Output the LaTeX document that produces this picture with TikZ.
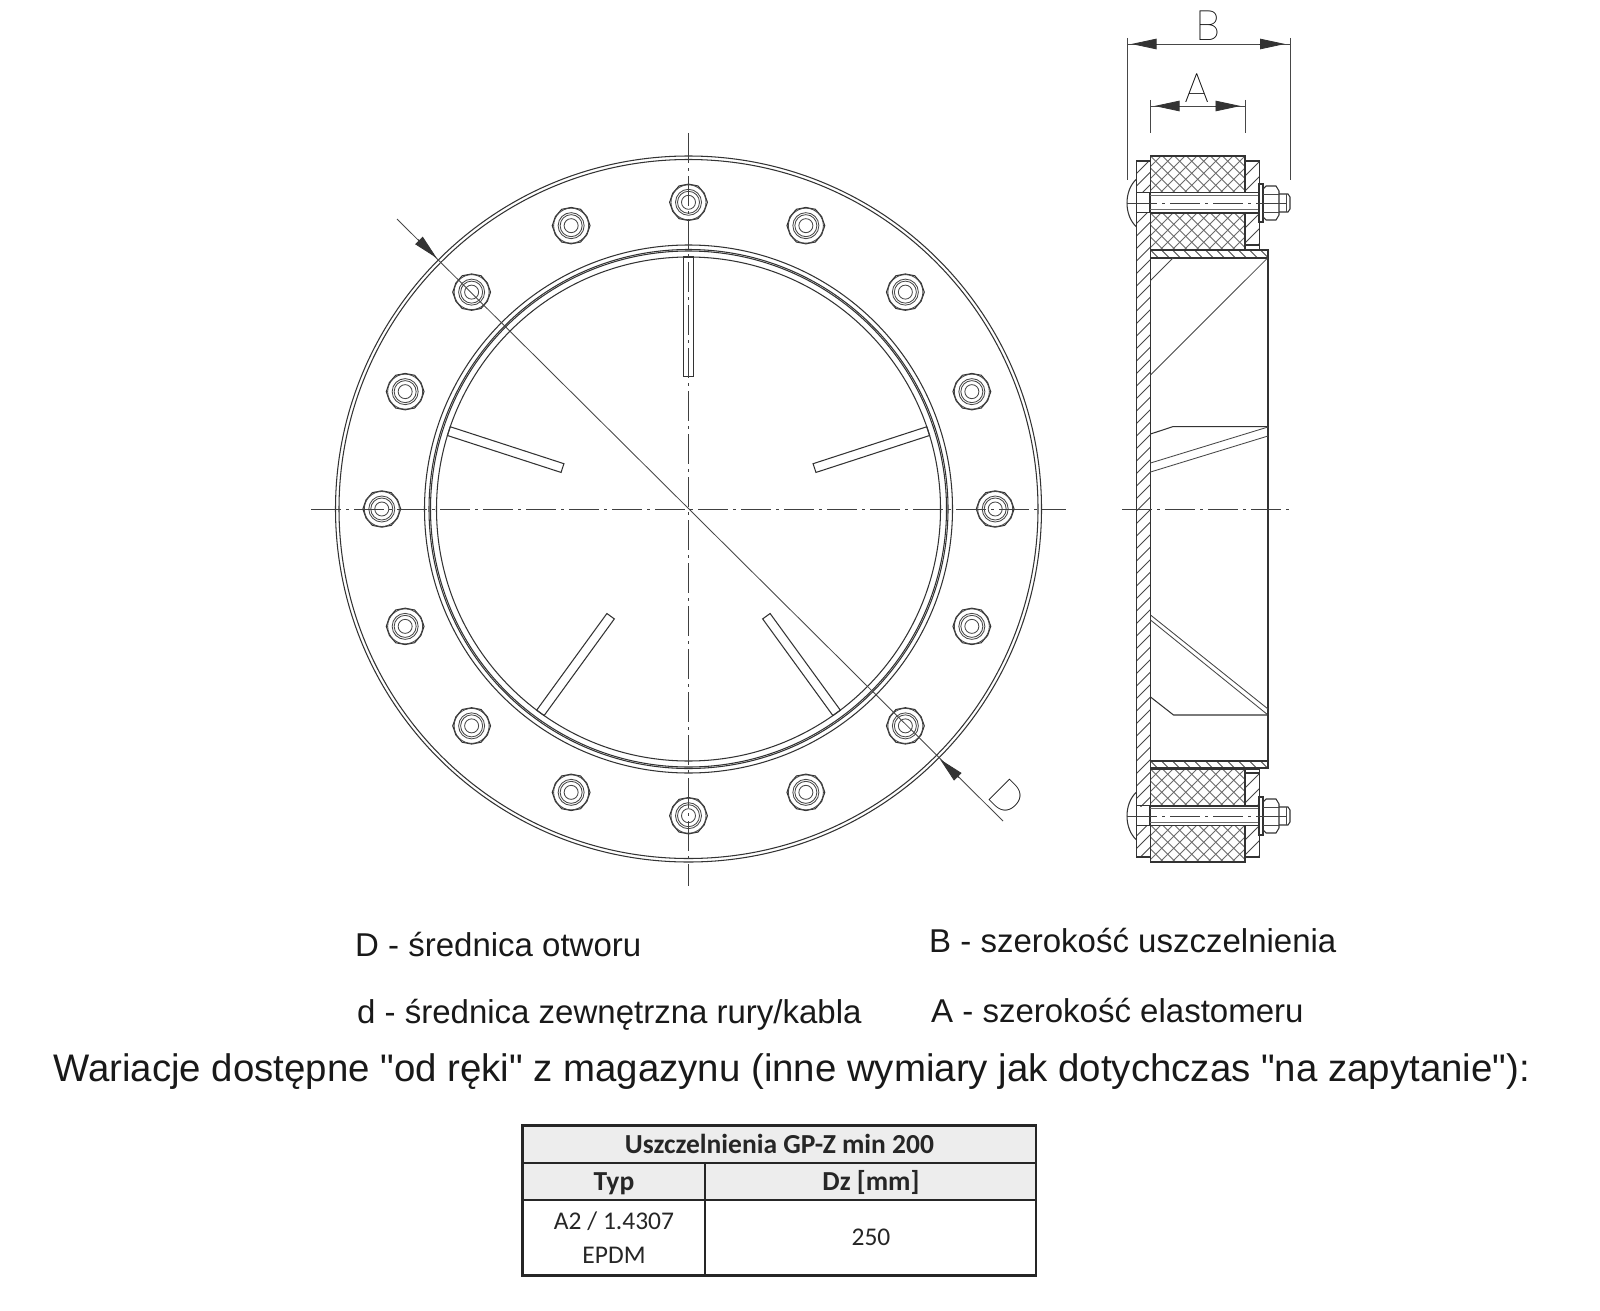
\documentclass[tikz,border=0pt]{standalone}
\usepackage{fontspec}
\setmainfont{Liberation Sans}
\newfontfamily\capfont{Liberation Sans}
\newfontfamily\tabfont{Carlito}
\newfontfamily\cadfont{Poppins Thin}
\usetikzlibrary{arrows.meta}
\definecolor{headgray}{HTML}{EDEDED}
\tikzset{
  ln/.style={line width=1.05pt,draw=black!80},
  thn/.style={line width=0.85pt,draw=black!72},
  foam/.style={line width=0.75pt,draw=black!58},
  axis/.style={line width=0.9pt,draw=black!75,dash pattern=on 30pt off 5pt on 3pt off 5pt},
  dimline/.style={line width=0.8pt,draw=black!80,-{Triangle[length=25pt,width=10.5pt]}},
  dimlabel/.style={font=\cadfont\fontsize{42}{42}\selectfont,text=black,inner sep=0pt},
  caption/.style={font=\capfont\fontsize{33}{33}\selectfont,anchor=west,inner sep=0pt,text=black!90},
  cell/.style={font=\tabfont\fontsize{25.5}{25.5}\selectfont,inner sep=0pt,text=black!85},
  headcell/.style={cell,font=\tabfont\bfseries\fontsize{27.5}{27.5}\selectfont},
  rule/.style={line width=2.4pt,draw=black!85}
}
\newcommand{\hexnut}{
  \draw[ln] (0:18.9) -- (30:18.2) -- (60:18.9) -- (90:18.2) -- (120:18.9) -- (150:18.2) -- (180:18.9) -- (210:18.2) -- (240:18.9) -- (270:18.2) -- (300:18.9) -- (330:18.2) -- cycle;
  \draw[thn] (0,0) circle [radius=17.5pt];
  \draw[thn] (0,0) circle [radius=13pt];
  \draw[thn] (0,0) circle [radius=11pt];
  \draw[thn] (0,0) circle [radius=7pt];
}
% one bolt of the side view
\newcommand{\sidebolt}[1]{
  \begin{scope}[shift={(0,#1)}]
  \draw[ln] (1136.5,-24) .. controls (1130,-18) and (1127,-9) .. (1127,0) .. controls (1127,9) and (1130,18) .. (1136.5,24);
  \draw[ln] (1136.5,-10.5) rectangle (1150,9.5);
  \draw[ln] (1150,-10.5) -- (1259,-10.5);
  \draw[foam] (1150,-7.5) -- (1259,-7.5);
  \draw[foam] (1150,6.5) -- (1259,6.5);
  \draw[ln] (1150,9.5) -- (1259,9.5);
  \draw[ln] (1259,-19) rectangle (1263,19);
  \draw[ln] (1263,-14) -- (1266,-17) -- (1276,-17) -- (1279,-12) -- (1279,12) -- (1276,17) -- (1266,17) -- (1263,14);
  \draw[thn] (1263,-9) -- (1279,-9);
  \draw[thn] (1263,9) -- (1279,9);
  \draw[ln] (1279,-9) -- (1288,-9) -- (1290,-6) -- (1290,6) -- (1288,9) -- (1279,9);
  \draw[thn] (1286.5,-9) -- (1286.5,9);
  \draw[axis] (1127,0) -- (1290,0);
  \end{scope}
}
\newcommand{\foamblock}[2]{
  \begin{scope}
  \clip (1150.5,#1) rectangle (1245,#2);
  \foreach \k in {-120,-108,...,120}{
    \draw[foam] (1150.5+\k,#1) -- ++(120,120);
    \draw[foam] (1245+\k,#1) -- ++(-120,120);
  }
  \end{scope}
  \draw[ln] (1150.5,#1) rectangle (1245,#2);
}
\newcommand{\flangeblock}[2]{
  \begin{scope}
  \clip (1245,#1) rectangle (1259.5,#2);
  \foreach \k in {0,15,...,120}{
    \draw[thn] (1245,#1+\k) -- ++(15,-15);
  }
  \end{scope}
  \draw[ln] (1245,#1) rectangle (1259.5,#2);
}
\newcommand{\tubeblock}[2]{
  \begin{scope}
  \clip (1150.5,#1) rectangle (1268,#2);
  \foreach \k in {0,11,...,121}{
    \draw[thn] (1150.5+\k,#1) -- ++(10,10);
  }
  \end{scope}
  \draw[ln] (1150.5,#1) rectangle (1268,#2);
}
\begin{document}
\begin{tikzpicture}[x=1pt,y=-1pt]
\useasboundingbox (0,0) rectangle (1600,1311);
\fill[white] (0,0) rectangle (1600,1311);

% front view
\begin{scope}[shift={(688.5,509)}]
\draw[ln] (0,0) circle [radius=353pt];
\draw[ln] (0,0) circle [radius=349.5pt];
\draw[ln] (0,0) circle [radius=264pt];
\draw[ln] (0,0) circle [radius=259.5pt];
\draw[ln] (0,0) circle [radius=258pt];
\draw[ln] (0,0) circle [radius=252pt];
\foreach \a in {18,90,162,234,306}{
  \draw[ln,rotate=\a] (132.5,-4.6) rectangle (252,4.6);
}
\foreach \a in {0,22.5,...,337.5}{
  \begin{scope}[shift={(\a:306.7)}]
  \hexnut
  \end{scope}
}
\end{scope}
\draw[axis] (688.5,133) -- (688.5,886);
\draw[axis] (311,509) -- (1066,509);

% dimension D
\coordinate (dstart) at (397,219);
\coordinate (dend) at (1003,821);
\coordinate (dtipa) at (436.7,258);
\coordinate (dtipb) at (940,759.3);
\coordinate (dtaila) at (418,239.5);
\coordinate (dtailb) at (958.5,777.5);
\draw[thn] (dstart) -- (dend);
\draw[dimline] (dtaila) -- (dtipa);
\draw[dimline] (dtailb) -- (dtipb);
\node[dimlabel,rotate=-45] (labd) at (1007,797) {D};

% side view
\begin{scope}
\clip (1136.5,161) rectangle (1150.5,857);
\foreach \k in {161,173.5,...,875}{
  \draw[thn] (1136.5,\k) -- ++(14,-14);
}
\end{scope}
\draw[ln] (1136.5,161) rectangle (1150.5,857);
\foamblock{156}{193}
\foamblock{213}{250}
\foamblock{769}{807}
\foamblock{825}{862}
\flangeblock{161}{193}
\flangeblock{213}{245}
\draw[ln] (1245,245) rectangle (1259.5,250);
\draw[ln] (1245,769) rectangle (1259.5,773);
\flangeblock{773}{807}
\flangeblock{825}{857}
\tubeblock{250}{258}
\tubeblock{761}{768}
\draw[ln] (1268,258) -- (1268,761);
\fill[white] (1136.5,193) rectangle (1259.5,213);
\fill[white] (1136.5,807) rectangle (1259.5,825);
\sidebolt{203}
\sidebolt{816}
\draw[thn] (1150.5,280.5) -- (1173.3,257.6);
\draw[thn] (1150.5,375) -- (1268,257.6);
\draw[ln] (1150.5,434) -- (1173,426.6) -- (1268,426.6);
\draw[thn] (1150.5,463) -- (1268,427);
\draw[thn] (1150.5,472) -- (1268,436);
\draw[thn] (1150.5,615) -- (1268,709);
\draw[thn] (1150.5,620) -- (1268,715);
\draw[ln] (1150.5,697) -- (1173.5,715) -- (1268,715);
\draw[axis] (1122,509) -- (1293,509);

% dimensions A and B
\coordinate (btaila) at (1156,44);
\coordinate (btipa) at (1131.5,44);
\coordinate (btailb) at (1259,44);
\coordinate (btipb) at (1285,44);
\coordinate (ataila) at (1180,106);
\coordinate (atipa) at (1154.5,106);
\coordinate (atailb) at (1215,106);
\coordinate (atipb) at (1240.5,106);
\draw[thn] (1127.3,38) -- (1127.3,180);
\draw[thn] (1290,38) -- (1290,180);
\draw[thn] (1150.5,100) -- (1150.5,133);
\draw[thn] (1245,100) -- (1245,133);
\draw[thn] (1127.3,44) -- (1290,44);
\draw[thn] (1150.5,106) -- (1245,106);
\draw[dimline] (btaila) -- (btipa);
\draw[dimline] (btailb) -- (btipb);
\draw[dimline] (ataila) -- (atipa);
\draw[dimline] (atailb) -- (atipb);
\node[dimlabel] (labb) at (1208,26) {B};
\node[dimlabel] (laba) at (1197.5,88) {A};

% captions
\node[caption] (capd) at (355,945) {D - średnica otworu};
\node[caption] (capb) at (929,940) {B - szerokość uszczelnienia};
\node[caption] (capsd) at (357,1015) {d - średnica zewnętrzna rury/kabla};
\node[caption] (capa) at (931,1010) {A - szerokość elastomeru};
\node[caption,font=\capfont\fontsize{38.4}{38.4}\selectfont] (capw) at (53,1072) {Wariacje dostępne "od ręki" z magazynu (inne wymiary jak dotychczas "na zapytanie"):};

% table
\fill[headgray] (522.5,1125.5) rectangle (1036,1200);
\draw[rule] (522.5,1125.5) rectangle (1036,1275.5);
\draw[rule] (522.5,1163) -- (1036,1163);
\draw[rule] (522.5,1200) -- (1036,1200);
\draw[rule] (705,1163) -- (705,1275.5);
\node[headcell] (title) at (779.5,1144) {Uszczelnienia GP-Z min 200};
\node[headcell] (typ) at (614,1183.5) {Typ};
\node[headcell] (dz) at (871,1182) {Dz [mm]};
\node[cell] (mat) at (614,1221) {A2 / 1.4307};
\node[cell] (epdm) at (614,1255) {EPDM};
\node[cell] (val) at (871,1237.5) {250};
\end{tikzpicture}
\end{document}
